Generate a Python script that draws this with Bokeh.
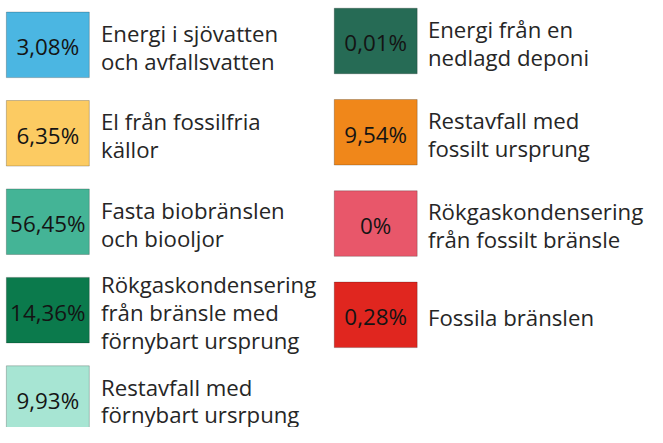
from bokeh.plotting import figure
from bokeh.models import Range1d, ColumnDataSource
from bokeh.core.properties import value
from bokeh.embed import file_html
from bokeh.resources import INLINE

# Data
left_pcts = ["3,08%", "6,35%", "56,45%", "14,36%", "9,93%"]
left_labels = [
    "Energi i sjövatten\noch avfallsvatten",
    "El från fossilfria\nkällor",
    "Fasta biobränslen\noch biooljor",
    "Rökgaskondensering\nfrån bränsle med\nförnybart ursprung",
    "Restavfall med\nförnybart ursrpung",
]
left_colors = ["#4BB6E2", "#FCCB62", "#44B496", "#0B7A4C", "#A7E5D3"]

right_pcts = ["0,01%", "9,54%", "0%", "0,28%"]
right_labels = [
    "Energi från en\nnedlagd deponi",
    "Restavfall med\nfossilt ursprung",
    "Rökgaskondensering\nfrån fossilt bränsle",
    "Fossila bränslen",
]
right_colors = ["#266B55", "#F0871A", "#E8576A", "#E0261F"]

W, H = 663, 443
FW, FH = W - 16, H - 16
S = FW / W  # screen px per data unit

p = figure(width=FW, height=FH, output_backend="svg", toolbar_location=None,
           x_range=Range1d(0, W), y_range=Range1d(H, 0),
           min_border=0, outline_line_color=None)
p.axis.visible = False
p.grid.visible = False
p.background_fill_color = "white"
p.border_fill_color = "white"

BOX_W, BOX_H = 85, 68
LINE_GAP = 29
CAP = 17
SHIFT = -6


def draw_column(pcts, labels, colors, x0, top0, pitch, text_x):
    n = len(pcts)
    tops = [top0 + pitch * i for i in range(n)]
    src = ColumnDataSource(dict(
        left=[x0] * n, right=[x0 + BOX_W] * n,
        top=tops, bottom=[t + BOX_H for t in tops],
        color=colors, pct=pcts,
        cx=[x0 + BOX_W / 2] * n, cy=[t + BOX_H / 2 + 8 + SHIFT for t in tops],
    ))
    p.quad(left="left", right="right", top="top", bottom="bottom", source=src,
           fill_color="color", line_color="#000000", line_alpha=0.22, line_width=1)
    p.text(x="cx", y="cy", text="pct", source=src, text_align="center",
           text_baseline="alphabetic", text_font=value("Open Sans"),
           text_font_size=f"{23 * S:.1f}px", text_color="#141414")
    xs, ys, ts = [], [], []
    for lab, t in zip(labels, tops):
        lines = lab.split("\n")
        c = t + BOX_H / 2
        first = c + CAP / 2 - LINE_GAP * (len(lines) - 1) / 2 + SHIFT
        for k, ln in enumerate(lines):
            xs.append(text_x)
            ys.append(first + LINE_GAP * k)
            ts.append(ln)
    p.text(x=xs, y=ys, text=ts, text_align="left", text_baseline="alphabetic",
           text_font=value("Open Sans"), text_font_size=f"{22.7 * S:.1f}px",
           text_color="#262626")


draw_column(left_pcts, left_labels, left_colors, 6, 12, 91.75, 103)
draw_column(right_pcts, right_labels, right_colors, 342, 8, 94.7, 438)

open("out.html", "w").write(file_html(p, INLINE))
